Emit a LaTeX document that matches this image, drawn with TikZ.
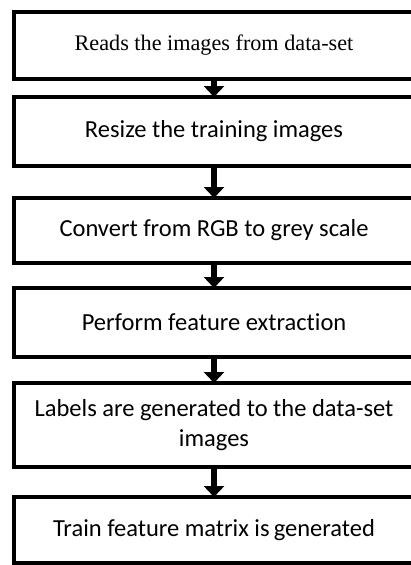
\documentclass[tikz,border=0pt]{standalone}
\usepackage{fontspec}
\setmainfont{Liberation Serif}
\newfontfamily\bodyfont[Ligatures=NoCommon]{Carlito}
\usetikzlibrary{positioning, arrows.meta}

\begin{document}
\begin{tikzpicture}
	[->,
	 >={Triangle[width=20pt, length=11pt]},
	 x=1pt, y=1pt,
	 align=center,
	 stage/.style={draw, line width=4pt, minimum width=400pt, inner sep=2pt,
	               font=\bodyfont\fontsize{24.5}{30}\selectfont},
	 flow/.style={line width=6pt, shorten >=-2pt}]

	\useasboundingbox (0,0) rectangle (411,-565);

	\node[stage, minimum height=67pt, font=\rmfamily\fontsize{22.2}{26}\selectfont] (read) at (214,-45.5) {Reads the images from data-set};
	\node[stage, below=14pt of read, minimum height=69pt] (resize) {Resize the training images};
	\node[stage, below=28pt of resize, minimum height=65pt] (grey) {Convert from RGB to grey scale};
	\node[stage, below=21pt of grey, minimum height=69pt] (feat) {Perform feature extraction};
	\node[stage, below=22pt of feat, minimum height=84pt] (label) {Labels are generated to the data-set\\ images};
	\node[stage, below=26pt of label, minimum height=66pt] (matrix) {Train feature matrix is\,generated};

	\draw[flow] (read) -- (resize);
	\draw[flow] (resize) -- (grey);
	\draw[flow] (grey) -- (feat);
	\draw[flow] (feat) -- (label);
	\draw[flow] (label) -- (matrix);
\end{tikzpicture}
\end{document}
